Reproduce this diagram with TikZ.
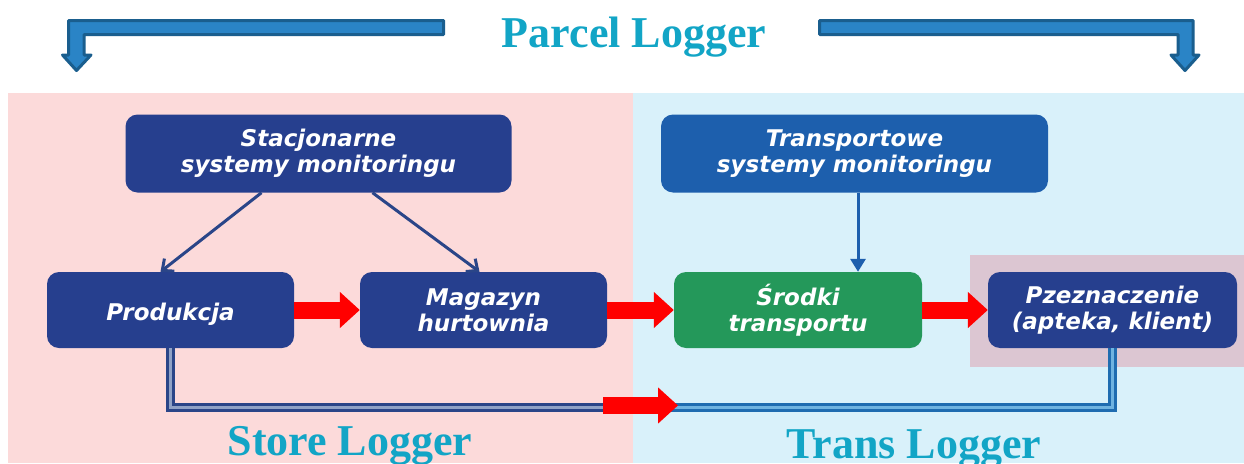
\documentclass[tikz,border=0pt]{standalone}
\usepackage{fontspec}
\setmainfont{Liberation Serif}
\newfontfamily\boxfont{DejaVu Sans}
\usetikzlibrary{arrows.meta}
\definecolor{pinkbg}{HTML}{FCDADA}
\definecolor{bluebg}{HTML}{D9F1FA}
\definecolor{mauvebg}{HTML}{DCC6D2}
\definecolor{navybox}{HTML}{263F8E}
\definecolor{bluebox}{HTML}{1D5FAD}
\definecolor{greenbox}{HTML}{24985A}
\definecolor{teal}{HTML}{12A5C6}
\definecolor{bentdark}{HTML}{1A5E8E}
\definecolor{bentfill}{HTML}{2A84C6}
\definecolor{navyline}{HTML}{2A4588}
\definecolor{navymid}{HTML}{8FA2C6}
\definecolor{blueline}{HTML}{1F6CB0}
\definecolor{bluemid}{HTML}{6FB3E0}
\begin{document}
\begin{tikzpicture}[x=1pt,y=-1pt,
  boxnode/.style={rounded corners=12pt, text=white, align=center, inner sep=0pt,
    execute at begin node={\rule{0pt}{26pt}},
    font=\boxfont\bfseries\itshape\fontsize{23}{26}\selectfont},
  titletext/.style={text=teal, font=\bfseries\fontsize{44}{44}\selectfont, inner sep=0pt, anchor=base},
  bentarrow/.style={draw=bentdark, fill=bentfill, line width=3pt, line join=round},
  redarrow/.style={draw=red, line width=17pt, -{Triangle[length=20pt,width=35pt]}},
  navyarrow/.style={draw=navyline, line width=3pt, -{Straight Barb[length=9pt,width=16pt,line width=3pt]}},
  bluearrow/.style={draw=bluebox, line width=3pt, -{Triangle[length=13pt,width=15pt]}},
  dlinenavy/.style={draw=navyline, line width=3pt, double=navymid, double distance=2.6pt},
  dlineblue/.style={draw=blueline, line width=3pt, double=bluemid, double distance=2.6pt}
]
\useasboundingbox (0,0) rectangle (1244,463);
\fill[white] (0,0) rectangle (1244,463);
\clip (0,0) rectangle (1244,463);
% backgrounds
\fill[pinkbg] (8,93) rectangle (633,463);
\fill[bluebg] (633,93) rectangle (1244,463);
\fill[mauvebg] (970,255) rectangle (1244,367);
% bent arrows
\draw[bentarrow] (443.5,20.5) -- (68.5,20.5) -- (68.5,55) -- (62.5,55) -- (76.5,70.5) -- (91,55) -- (84,55) -- (84,34.5) -- (443.5,34.5) -- cycle;
\draw[bentarrow] (819.5,20.5) -- (1193,20.5) -- (1193,55) -- (1199,55) -- (1185,70.5) -- (1171,55) -- (1178,55) -- (1178,34.5) -- (819.5,34.5) -- cycle;
% titles
\node[titletext] (parcel) at (634,47) {Parcel Logger};
\node[titletext] (store) at (350,455) {Store Logger};
\node[titletext] (trans) at (914,458) {Trans Logger};
% boxes
\node[boxnode, fill=navybox, minimum width=386pt, minimum height=78pt] (stac) at (318.5,153.5) {Stacjonarne\\systemy monitoringu};
\node[boxnode, fill=bluebox, minimum width=387pt, minimum height=78pt] (tran) at (854.5,153.5) {Transportowe\\systemy monitoringu};
\node[boxnode, fill=navybox, minimum width=247pt, minimum height=76pt] (prod) at (170.5,310) {Produkcja};
\node[boxnode, fill=navybox, minimum width=247pt, minimum height=76pt] (mag) at (483.5,310) {Magazyn\\hurtownia};
\node[boxnode, fill=greenbox, minimum width=248pt, minimum height=76pt] (srod) at (798,310) {Środki\\transportu};
\node[boxnode, fill=navybox, minimum width=249pt, minimum height=76pt] (prze) at (1112.5,310) {Pzeznaczenie\\(apteka, klient)};
% thin arrows
\draw[navyarrow] ([xshift=-57pt]stac.south) -- ([xshift=-10pt]prod.north);
\draw[navyarrow] ([xshift=54pt]stac.south) -- ([xshift=-4pt]mag.north);
\draw[bluearrow] ([xshift=3.5pt]tran.south) -- ([xshift=3.5pt]tran.south |- srod.north);
% double line
\coordinate (split) at (633,407.5);
\draw[dlinenavy] (prod.south) |- (split);
\draw[dlineblue] (split) -| (prze.south);
% red arrows
\draw[redarrow] (prod.east) -- (mag.west);
\draw[redarrow] (mag.east) -- (srod.west);
\draw[redarrow] (srod.east) -- (prze.west);
\coordinate (rstart) at (603,405.5);
\coordinate (rend) at (678,405.5);
\draw[redarrow] (rstart) -- (rend);
\end{tikzpicture}
\end{document}
